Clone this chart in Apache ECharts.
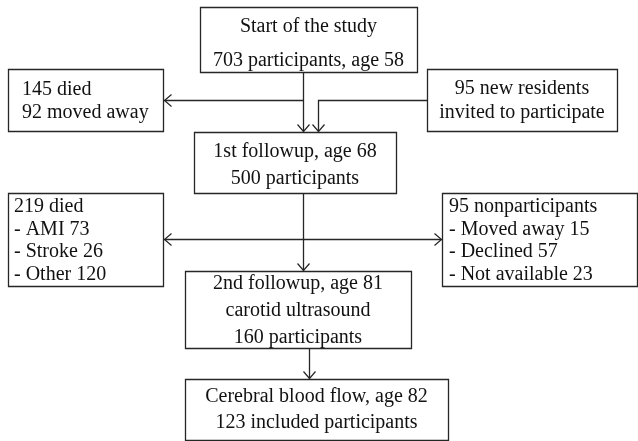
<!DOCTYPE html>
<html>
<head>
<meta charset="utf-8">
<script src="https://cdn.jsdelivr.net/npm/echarts@6/dist/echarts.min.js"></script>
<style>
  html, body { margin: 0; padding: 0; background: #fff; }
  #chart { width: 638px; height: 441px; }
</style>
</head>
<body>
<div id="chart"></div>
<script>
// box texts (one entry per box, one string per line)
var boxNames = ['start', 'lost1', 'newResidents', 'followup1', 'lost2', 'nonParticipants', 'followup2', 'cbf'];
var boxLines = [
  ['Start of the study', '703 participants, age 58'],
  ['145 died', '92 moved away'],
  ['95 new residents', 'invited to participate'],
  ['1st followup, age 68', '500 participants'],
  ['219 died', '- AMI 73', '- Stroke 26', '- Other 120'],
  ['95 nonparticipants', '- Moved away 15', '- Declined 57', '- Not available 23'],
  ['2nd followup, age 81', 'carotid ultrasound', '160 participants'],
  ['Cerebral blood flow, age 82', '123 included participants']
];

// layout: box rectangles [x0, y0, x1, y1] in the 638x441 frame
var boxRects = [
  [200, 7, 417, 72],
  [8, 69, 163, 131],
  [427, 69, 617, 131],
  [194, 132, 396, 193],
  [8, 193, 163, 286],
  [442, 193, 637, 286],
  [185, 271, 411, 348],
  [185, 379, 448, 440]
];
var textAlign = ['center', 'left', 'center', 'center', 'left', 'left', 'center', 'center'];
var textPad = [0, 14, 0, 0, 6, 7, 0, 0];
var firstLineY = [27, 90, 89, 152, 207, 207, 284, 397];
var lineGap = [34, 22.5, 24, 27, 22.5, 22.5, 27, 26];

// connectors: polylines, arrowhead at end (and start where noted)
var links = [
  { points: [[303, 72], [303, 131]], start: false },
  { points: [[303, 100], [164, 100]], start: false },
  { points: [[427, 100], [318, 100], [318, 131]], start: false },
  { points: [[303, 193], [303, 270]], start: false },
  { points: [[164, 239], [441, 239]], start: true },
  { points: [[309, 348], [309, 378]], start: false }
];

var ink = '#262626';
var font = '20px "Liberation Serif", "DejaVu Serif", serif';

var chart = echarts.init(document.getElementById('chart'));

function renderBox(params, api) {
  var i = params.dataIndex;
  var r = boxRects[i];
  var p0 = api.coord([r[0], r[1]]);
  var p1 = api.coord([r[2], r[3]]);
  var children = [{
    type: 'rect',
    shape: { x: Math.round(p0[0]) + 0.5, y: Math.round(p0[1]) + 0.5, width: p1[0] - p0[0], height: p1[1] - p0[1] },
    style: { fill: '#fff', stroke: ink, lineWidth: 1.3 }
  }];
  var tx = textAlign[i] === 'center' ? (r[0] + r[2]) / 2 : r[0] + textPad[i];
  boxLines[i].forEach(function (line, k) {
    var pt = api.coord([tx, firstLineY[i] + k * lineGap[i]]);
    children.push({
      type: 'text',
      style: {
        text: line, x: pt[0], y: pt[1], font: font, fill: '#111',
        align: textAlign[i], verticalAlign: 'middle'
      }
    });
  });
  return { type: 'group', children: children };
}

function arrowHead(tip, from) {
  var dx = tip[0] - from[0], dy = tip[1] - from[1];
  var len = Math.sqrt(dx * dx + dy * dy) || 1;
  var ux = dx / len, uy = dy / len;
  var L = 7, W = 6;
  return {
    type: 'polyline',
    shape: { points: [
      [tip[0] - ux * L - uy * W, tip[1] - uy * L + ux * W],
      tip,
      [tip[0] - ux * L + uy * W, tip[1] - uy * L - ux * W]
    ] },
    style: { fill: null, stroke: ink, lineWidth: 1.2 }
  };
}

function renderLink(params, api) {
  var l = links[params.dataIndex];
  var pts = l.points.map(function (p) {
    var c = api.coord(p);
    return [Math.round(c[0]) + 0.5, Math.round(c[1]) + 0.5];
  });
  var children = [{
    type: 'polyline',
    shape: { points: pts },
    style: { fill: null, stroke: ink, lineWidth: 1.3 }
  }];
  children.push(arrowHead(pts[pts.length - 1], pts[pts.length - 2]));
  if (l.start) children.push(arrowHead(pts[0], pts[1]));
  return { type: 'group', children: children };
}

chart.setOption({
  animation: false,
  backgroundColor: '#fff',
  grid: { left: 0, right: 0, top: 0, bottom: 0 },
  xAxis: { type: 'value', min: 0, max: 638, show: false },
  yAxis: { type: 'value', min: 0, max: 441, inverse: true, show: false },
  series: [
    {
      type: 'custom',
      name: 'links',
      clip: false,
      renderItem: renderLink,
      data: links.map(function (l) { return l.points[0]; })
    },
    {
      type: 'custom',
      name: 'boxes',
      clip: false,
      renderItem: renderBox,
      data: boxRects.map(function (r, i) { return [r[0], r[1], boxNames[i]]; })
    }
  ]
});
</script>
</body>
</html>
